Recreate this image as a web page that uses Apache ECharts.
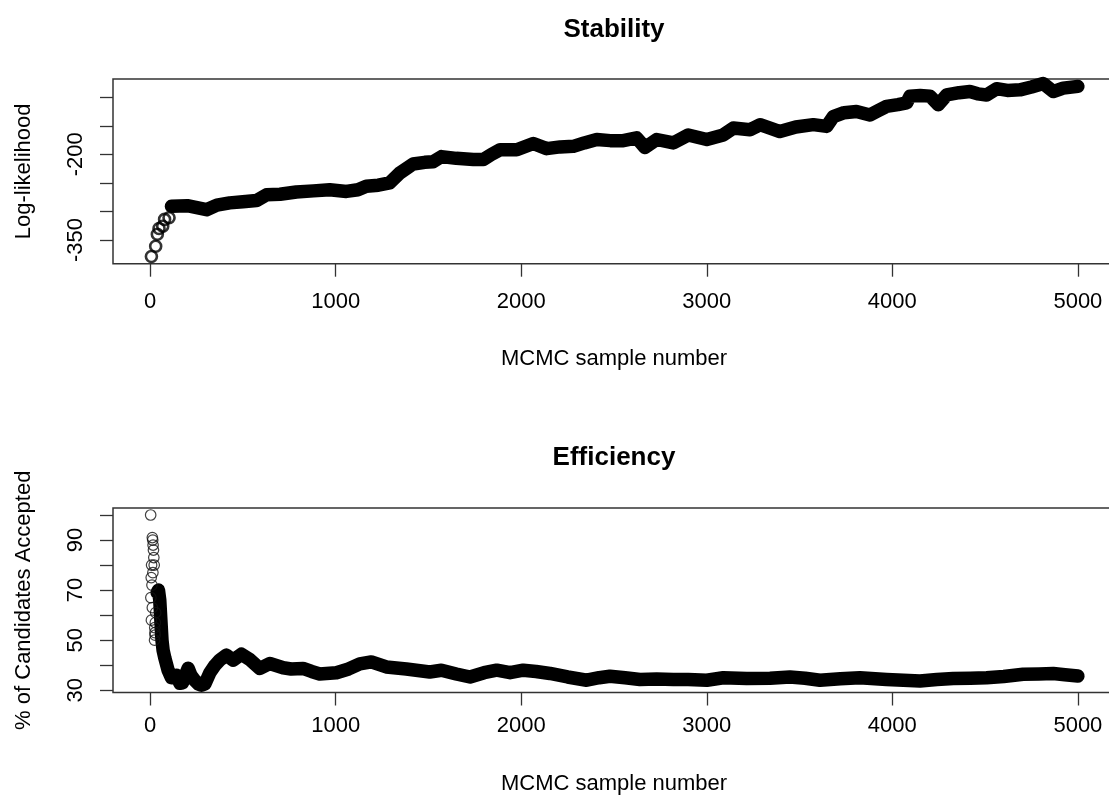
<!DOCTYPE html>
<html>
<head>
<meta charset="utf-8">
<script src="https://cdn.jsdelivr.net/npm/echarts@6/dist/echarts.min.js"></script>
<style>
html,body{margin:0;padding:0;background:#fff;}
#chart{width:1109px;height:795px;}
</style>
</head>
<body>
<div id="chart"></div>
<script>
// ---- Data ----
var xTicks = [0, 1000, 2000, 3000, 4000, 5000];

// Stability panel
var stabTicks = [-350, -300, -250, -200, -150, -100];
var stabLabels = [-350, -200];
var stabCircleS = [7, 30, 39, 48, 68, 78, 102];
var stabCircleV = [-379, -361, -340, -330, -326, -314, -311];
var stabBandS = [115, 200, 304, 360, 429, 500, 573, 627, 700, 788, 880, 968, 1058, 1120, 1165, 1230, 1291, 1345, 1417, 1480, 1525, 1570, 1650, 1742, 1796, 1840, 1886, 1976, 2065, 2137, 2210, 2281, 2340, 2407, 2480, 2550, 2622, 2667, 2730, 2820, 2900, 2950, 3000, 3089, 3143, 3233, 3287, 3341, 3394, 3480, 3574, 3646, 3682, 3740, 3807, 3879, 3920, 3969, 4030, 4077, 4095, 4150, 4203, 4248, 4293, 4360, 4418, 4460, 4508, 4562, 4620, 4688, 4750, 4813, 4867, 4921, 5000];
var stabBandV = [-291, -290, -297, -289, -285, -283, -281, -271, -270, -266, -264, -262, -265, -262, -256, -254, -250, -233, -217, -214, -213, -204, -207, -209, -209, -200, -192, -192, -181, -190, -187, -186, -180, -174, -176, -176, -171, -188, -174, -180, -166, -170, -174, -166, -154, -157, -148, -154, -160, -152, -148, -151, -134, -127, -125, -131, -124, -116, -113, -110, -98, -97, -98, -113, -96, -92, -90, -94, -96, -85, -88, -87, -82, -76, -90, -84, -81];

// Efficiency panel
var effTicks = [30, 40, 50, 60, 70, 80, 90, 100];
var effLabels = [30, 50, 70, 90];
var effCircleS = [3, 12, 14, 16, 18, 20, 22, 8, 15, 6, 10, 4, 12, 7, 25, 27, 24, 26, 28, 30];
var effCircleV = [100, 91, 90, 88, 86, 83, 80, 80, 77, 75, 72, 67, 63, 58, 55, 52, 50, 53, 57, 61];
var effBandS = [38, 45, 52, 58, 64, 70, 79, 97, 115, 142, 160, 175, 190, 205, 220, 240, 260, 277, 295, 322, 350, 375, 411, 447, 492, 537, 591, 645, 717, 760, 824, 870, 914, 1004, 1070, 1130, 1192, 1273, 1381, 1507, 1570, 1650, 1724, 1800, 1868, 1940, 2011, 2080, 2155, 2250, 2353, 2420, 2478, 2560, 2640, 2730, 2820, 2900, 3000, 3089, 3215, 3341, 3448, 3530, 3610, 3720, 3825, 3969, 4060, 4149, 4240, 4328, 4420, 4508, 4600, 4705, 4790, 4867, 4930, 5000];
var effBandV = [69, 70, 66, 58, 50, 46, 43, 38, 35, 36, 32.8, 33, 36, 38.8, 36, 34, 32.5, 32, 32.5, 37, 40, 42, 44, 42, 44.4, 42.3, 38.7, 40.7, 39, 38.5, 38.7, 37.5, 36.5, 37, 38.5, 40.5, 41.3, 39.3, 38.5, 37.3, 38, 36.5, 35.3, 37, 38, 37, 38, 37.5, 36.7, 35.3, 34, 35, 35.6, 35, 34.3, 34.5, 34.3, 34.3, 34, 35, 34.7, 34.8, 35.3, 34.8, 34, 34.6, 35, 34.3, 34, 33.7, 34.3, 34.7, 34.8, 35, 35.5, 36.4, 36.5, 36.7, 36.2, 35.7];

function zip(a, b) { return a.map(function (v, i) { return [v, b[i]]; }); }

var FONT = 'Liberation Sans';
var axisColor = '#333';

function makeX(gi) {
  return {
    type: 'value', gridIndex: gi, min: -200, max: 5200,
    name: 'MCMC sample number', nameLocation: 'middle', nameGap: gi === 0 ? 84 : 80,
    nameTextStyle: { fontFamily: FONT, fontSize: 22, color: '#000' },
    axisLine: { show: false, onZero: false },
    axisTick: { show: true, inside: false, length: 13, customValues: xTicks, lineStyle: { color: axisColor, width: 1.3 } },
    axisLabel: { customValues: xTicks, margin: gi === 0 ? 27 : 22, fontFamily: FONT, fontSize: 22, color: '#000',
      formatter: function (v) { return String(v); } },
    splitLine: { show: false }
  };
}
function makeY(gi, min, max, ticks, labels, name) {
  return {
    type: 'value', gridIndex: gi, min: min, max: max,
    name: name, nameLocation: 'middle', nameRotate: 90, nameGap: 78,
    nameTextStyle: { fontFamily: FONT, fontSize: 22, color: '#000' },
    axisLine: { show: false, onZero: false },
    axisTick: { show: true, inside: false, length: 13, customValues: ticks, lineStyle: { color: axisColor, width: 1.3 } },
    axisLabel: { customValues: labels, rotate: 90, margin: 26, fontFamily: FONT, fontSize: 22, color: '#000',
      formatter: function (v) { return String(v); } },
    splitLine: { show: false }
  };
}

var chart = echarts.init(document.getElementById('chart'), null, { renderer: 'canvas' });
chart.setOption({
  animation: false,
  backgroundColor: '#fff',
  title: [
    { text: 'Stability', left: 614, top: 17, padding: 0, textAlign: 'center', textStyle: { fontFamily: FONT, fontSize: 26, fontWeight: 'bold', color: '#000' } },
    { text: 'Efficiency', left: 614, top: 445, padding: 0, textAlign: 'center', textStyle: { fontFamily: FONT, fontSize: 26, fontWeight: 'bold', color: '#000' } }
  ],
  grid: [
    { left: 113, top: 79, width: 1002, height: 184.7, show: true, borderColor: axisColor, borderWidth: 1.5, backgroundColor: 'transparent', containLabel: false, outerBoundsMode: 'none' },
    { left: 113, top: 508, width: 1002, height: 184.5, show: true, borderColor: axisColor, borderWidth: 1.5, backgroundColor: 'transparent', containLabel: false, outerBoundsMode: 'none' }
  ],
  xAxis: [makeX(0), makeX(1)],
  yAxis: [
    makeY(0, -391.6, -68, stabTicks, stabLabels, 'Log-likelihood'),
    makeY(1, 29.1, 102.8, effTicks, effLabels, '% of Candidates Accepted')
  ],
  series: [
    {
      type: 'line', xAxisIndex: 0, yAxisIndex: 0, data: zip(stabBandS, stabBandV),
      symbol: 'none', lineStyle: { color: '#000', width: 13.5, cap: 'round', join: 'round' }, z: 2
    },
    {
      type: 'scatter', xAxisIndex: 0, yAxisIndex: 0, data: zip(stabCircleS, stabCircleV),
      symbol: 'circle', symbolSize: 11, itemStyle: { color: 'rgba(255,255,255,0)', borderColor: '#000', borderWidth: 2.6 }, z: 3
    },
    {
      type: 'line', xAxisIndex: 1, yAxisIndex: 1, data: zip(effBandS, effBandV),
      symbol: 'none', lineStyle: { color: '#000', width: 13.5, cap: 'round', join: 'round' }, z: 2
    },
    {
      type: 'scatter', xAxisIndex: 1, yAxisIndex: 1, data: zip(effCircleS, effCircleV),
      symbol: 'circle', symbolSize: 10.5, itemStyle: { color: 'rgba(255,255,255,0)', borderColor: '#111', borderWidth: 1.2 }, z: 3
    }
  ]
});
</script>
</body>
</html>
